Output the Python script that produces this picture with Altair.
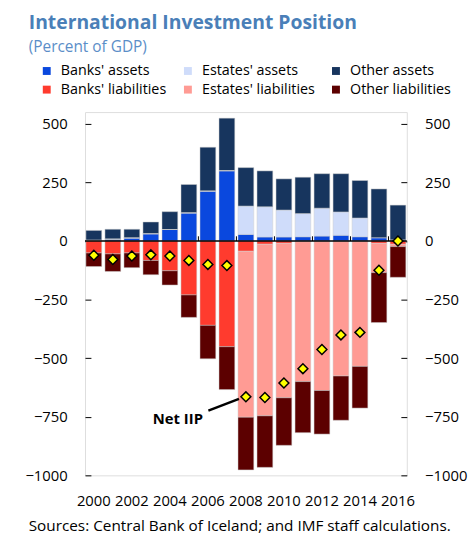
import altair as alt
import pandas as pd

# ---------------- data (percent of GDP) ----------------
years = [str(y) for y in range(2000, 2017)]

banks_assets = [3, 8, 13, 31, 49, 120, 213, 300, 28, 17, 17, 18, 21, 24, 18, 14, 5]
estates_assets = [0, 0, 0, 0, 0, 0, 0, 0, 121, 129, 115, 99, 119, 100, 80, 0, 0]
other_assets = [42, 42, 37, 50, 76, 121, 187, 224, 164, 153, 133, 155, 147, 163, 160, 208, 148]

banks_liab = [51, 55, 51, 83, 127, 230, 360, 451, 44, 14, 10, 3, 3, 3, 3, 10, 14]
estates_liab = [0, 0, 0, 0, 0, 0, 0, 0, 708, 732, 659, 597, 635, 573, 532, 125, 10]
other_liab = [58, 75, 63, 61, 61, 96, 143, 183, 225, 220, 203, 218, 186, 189, 178, 213, 131]

net_iip = [-61, -79, -64, -59, -64, -83, -100, -105, -665, -668, -606, -545, -463, -401, -390, -125, 0]

series_names = ["Banks' assets", "Estates' assets", "Other assets",
                "Banks' liabilities", "Estates' liabilities", "Other liabilities"]
series_colors = ["#0a48de", "#cfdcfa", "#17355e", "#ff3b2e", "#ff9b94", "#5c0000"]

y_ticks = [-1000, -750, -500, -250, 0, 250, 500]
x_label_years = [str(y) for y in range(2000, 2017, 2)]
zero_tick_years = ["2006", "2008", "2010", "2012", "2014", "2016"]

ann_label = "Net IIP"
ann_text_year = ["2006"]
ann_text_value = [-758]
ann_line_from = ["2006"]
ann_line_to = ["2008"]
ann_line_y1 = [-724]
ann_line_y2 = [-674]

title_text = "International Investment Position"
subtitle_text = "(Percent of GDP)"
source_text = "Sources: Central Bank of Iceland; and IMF staff calculations."

# ---------------- tables ----------------
rows = []
series_values = [banks_assets, estates_assets, other_assets, banks_liab, estates_liab, other_liab]
for si, (name, vals) in enumerate(zip(series_names, series_values)):
    sign = 1 if si < 3 else -1
    for y, v in zip(years, vals):
        rows.append({"year": y, "series": name, "value": sign * v, "ord": si % 3})
bars_df = pd.DataFrame(rows)
net_df = pd.DataFrame({"year": years, "net": net_iip})
zero_df = pd.DataFrame({"v": [0]})
ticks_df = pd.DataFrame({"year": zero_tick_years, "y0": [0] * len(zero_tick_years),
                         "y1": [20] * len(zero_tick_years)})
ann_text_df = pd.DataFrame({"year": ann_text_year, "v": ann_text_value, "t": [ann_label]})
ann_line_df = pd.DataFrame({"year": ann_line_from, "year2": ann_line_to,
                            "v1": ann_line_y1, "v2": ann_line_y2})
src_df = pd.DataFrame({"t": [source_text]})

FONT = "Open Sans"
FS = 15

x_scale = alt.Scale(domain=years, paddingInner=0.17, paddingOuter=0.05)
x_axis = alt.Axis(values=x_label_years, labelAngle=0, ticks=False, domain=False,
                  labelPadding=19, title=None, labelOverlap=False, grid=False,
                  labelFontSize=FS, labelColor="black")
y_scale = alt.Scale(domain=[-1000, 550], nice=False, zero=False)

def yaxis(orient):
    return alt.Axis(orient=orient, values=y_ticks, tickSize=6, offset=-6, domain=False,
                    labelPadding=18, title=None, grid=False, labelFontSize=FS,
                    labelColor="black", tickColor="black", tickWidth=1, format="d")

X = alt.X("year:O", scale=x_scale, axis=x_axis)

ticks = alt.Chart(ticks_df).mark_rule(color="black", strokeWidth=1, xOffset=-1.6).encode(
    x=alt.X("year:O", scale=x_scale, axis=x_axis, bandPosition=0),
    y=alt.Y("y0:Q", scale=y_scale, axis=None),
    y2="y1:Q",
)

# pad the first-column label so the legend columns are evenly spaced
legend_label_expr = "datum.label == \"Banks' liabilities\" ? datum.label + '   ' : datum.label"

bars = alt.Chart(bars_df).mark_bar(stroke="#cfcfcf", strokeWidth=0.5).encode(
    x=X,
    y=alt.Y("value:Q", scale=y_scale, axis=yaxis("left"), stack="zero"),
    color=alt.Color("series:N",
                    scale=alt.Scale(domain=series_names, range=series_colors),
                    legend=alt.Legend(title=None, orient="none", legendX=-46, legendY=-49,
                                      columns=3, direction="horizontal",
                                      symbolType="square", symbolSize=64,
                                      symbolStrokeWidth=0, labelFontSize=14.5,
                                      labelColor="black", labelOffset=7,
                                      columnPadding=14, rowPadding=4, gridAlign="each",
                                      labelLimit=300, labelExpr=legend_label_expr)),
    order=alt.Order("ord:Q"),
)

zero = alt.Chart(zero_df).mark_rule(color="black", strokeWidth=1.5).encode(
    y=alt.Y("v:Q", scale=y_scale, axis=None)
)

diamonds = alt.Chart(net_df).mark_point(shape="diamond", filled=True, fill="#ffff00",
                                        stroke="black", strokeWidth=1.5, size=100,
                                        opacity=1).encode(
    x=X,
    y=alt.Y("net:Q", scale=y_scale, axis=yaxis("right")),
)

ann_line = alt.Chart(ann_line_df).mark_rule(color="black", strokeWidth=2.5,
                                            xOffset=0.5, x2Offset=-7).encode(
    x=X,
    x2="year2:O",
    y=alt.Y("v1:Q", scale=y_scale, axis=None),
    y2="v2:Q",
)

ann_text = alt.Chart(ann_text_df).mark_text(align="right", baseline="middle", dx=-5,
                                            fontSize=FS, fontWeight="bold",
                                            color="black", font=FONT).encode(
    x=X,
    y=alt.Y("v:Q", scale=y_scale, axis=None),
    text="t:N",
)

source = alt.Chart(src_df).mark_text(align="left", baseline="middle", fontSize=15.5,
                                     color="black", font=FONT).encode(
    x=alt.value(-57), y=alt.value(419), text="t:N"
)

chart = alt.layer(ticks, bars, zero, diamonds, ann_line, ann_text, source).resolve_axis(
    y="independent"
).resolve_scale(y="shared").properties(
    width=326,
    height=368,
    autosize=alt.AutoSizeParams(type="none"),
    padding={"left": 78, "top": 102, "right": 62, "bottom": 57},
    title=alt.TitleParams(text=title_text, subtitle=subtitle_text, anchor="start",
                          frame="group", dx=-57, offset=7, fontSize=19.6,
                          fontWeight="bold", color="#4a7fb8", font=FONT,
                          subtitleFont=FONT, subtitleFontSize=15.6,
                          subtitleColor="#5b8ec8", subtitlePadding=7),
).configure_view(
    stroke="black", strokeWidth=1.2
).configure(
    font=FONT
).configure_axis(
    labelFont=FONT
).configure_legend(
    labelFont=FONT
)

chart.save("out.html", embed_options={"renderer": "svg", "actions": False})
